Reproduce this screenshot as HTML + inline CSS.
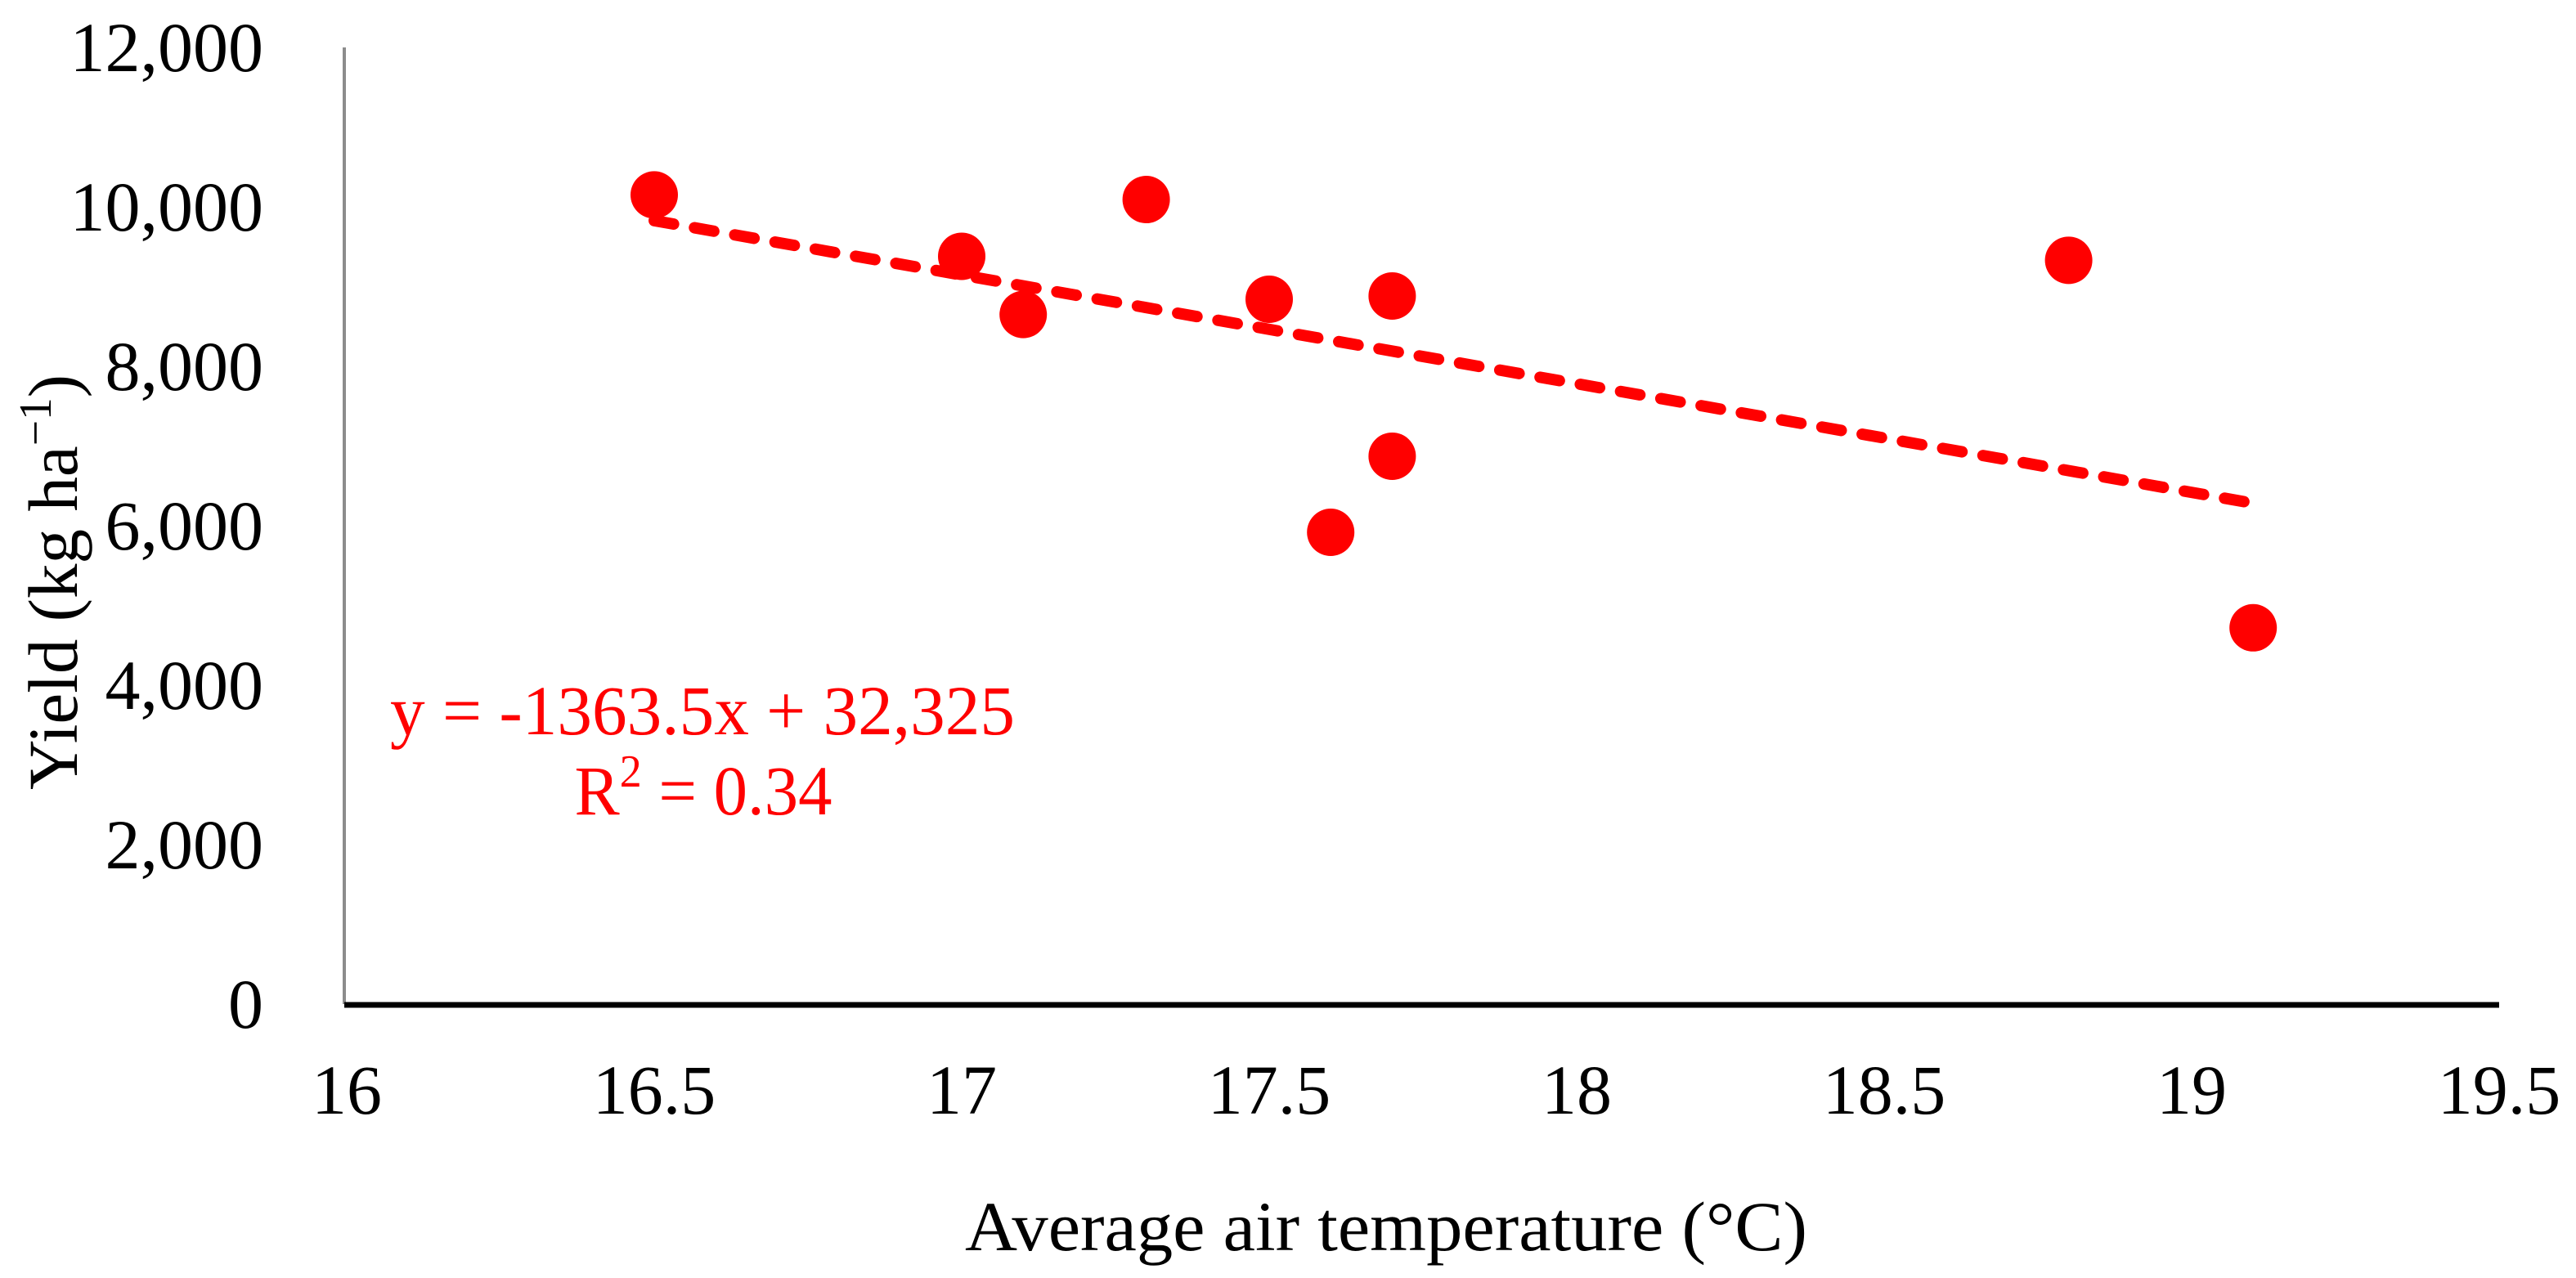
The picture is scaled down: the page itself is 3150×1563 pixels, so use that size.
<!DOCTYPE html>
<html><head><meta charset="utf-8"><style>
html,body{margin:0;padding:0;background:#fff;}
svg{display:block;}
text{font-family:"Liberation Serif",serif;}
</style></head><body>
<svg id="chart" width="3150" height="1563" viewBox="0 0 3150 1563" xmlns="http://www.w3.org/2000/svg">
<line x1="421" y1="58" x2="421" y2="1228" stroke="#8c8c8c" stroke-width="4"/>
<line x1="421" y1="1229" x2="3056" y2="1229" stroke="#000" stroke-width="7"/>
<g id="yticks"></g>
<g id="xticks"></g>
<g id="trend"></g>
<g id="points"></g>
<text x="859" y="898" font-size="86" fill="#ff0000" text-anchor="middle" textLength="764" lengthAdjust="spacingAndGlyphs">y = -1363.5x + 32,325</text>
<text x="860" y="996" font-size="86" fill="#ff0000" text-anchor="middle" textLength="315" lengthAdjust="spacingAndGlyphs">R<tspan font-size="56" dy="-34">2</tspan><tspan dy="34"> = 0.34</tspan></text>
<text x="1695" y="1529" font-size="86" text-anchor="middle" textLength="1030" lengthAdjust="spacingAndGlyphs">Average air temperature (°C)</text>
<text transform="translate(94,712) rotate(-90)" font-size="86" text-anchor="middle" textLength="508" lengthAdjust="spacingAndGlyphs">Yield (kg ha<tspan font-size="56" dy="-32">−1</tspan><tspan dy="32">)</tspan></text>
</svg>
<script>
const xValues = [16.5, 17.0, 17.1, 17.3, 17.5, 17.6, 17.7, 17.7, 18.8, 19.1];
const yValues = [10150, 9380, 8650, 10092, 8841, 5918, 8882, 6872, 9330, 4720];
const xTicks = [16, 16.5, 17, 17.5, 18, 18.5, 19, 19.5];
const xTickLabels = ["16", "16.5", "17", "17.5", "18", "18.5", "19", "19.5"];
const yTicks = [0, 2000, 4000, 6000, 8000, 10000, 12000];
const yTickLabels = ["0", "2,000", "4,000", "6,000", "8,000", "10,000", "12,000"];
const trendSlope = -1363.5;
const trendIntercept = 32325;
const trendRange = [16.5, 19.1];

const NS = "http://www.w3.org/2000/svg";
function xs(v){ return 424 + (v - 16) / 3.5 * (3056 - 424); }
function ys(v){ return 1228 - v / 12000 * (1228 - 58); }

const yt = document.getElementById('yticks');
yTicks.forEach((t, i) => {
  const el = document.createElementNS(NS, 'text');
  
  
  el.setAttribute('x', 322);
  el.setAttribute('y', ys(t) + 29);
  el.setAttribute('font-size', '86');
  el.setAttribute('text-anchor', 'end');
  el.textContent = yTickLabels[i];
  yt.appendChild(el);
});
const xt = document.getElementById('xticks');
xTicks.forEach((t, i) => {
  const el = document.createElementNS(NS, 'text');
  
  
  el.setAttribute('x', xs(t));
  el.setAttribute('y', 1362);
  el.setAttribute('font-size', '86');
  el.setAttribute('text-anchor', 'middle');
  el.textContent = xTickLabels[i];
  xt.appendChild(el);
});
const tr = document.getElementById('trend');
const ln = document.createElementNS(NS, 'line');


ln.setAttribute('x1', xs(trendRange[0]));
ln.setAttribute('y1', ys(trendSlope * trendRange[0] + trendIntercept));
ln.setAttribute('x2', xs(trendRange[1]));
ln.setAttribute('y2', ys(trendSlope * trendRange[1] + trendIntercept));
ln.setAttribute('stroke', '#ff0000');
ln.setAttribute('stroke-width', '14');
ln.setAttribute('stroke-linecap', 'round');
ln.setAttribute('stroke-dasharray', '24 26');
tr.appendChild(ln);
const pg = document.getElementById('points');
xValues.forEach((x, i) => {
  const c = document.createElementNS(NS, 'circle');
  
  
  c.setAttribute('cx', xs(x));
  c.setAttribute('cy', ys(yValues[i]));
  c.setAttribute('r', 29);
  c.setAttribute('fill', '#ff0000');
  pg.appendChild(c);
});
</script>
</body></html>
